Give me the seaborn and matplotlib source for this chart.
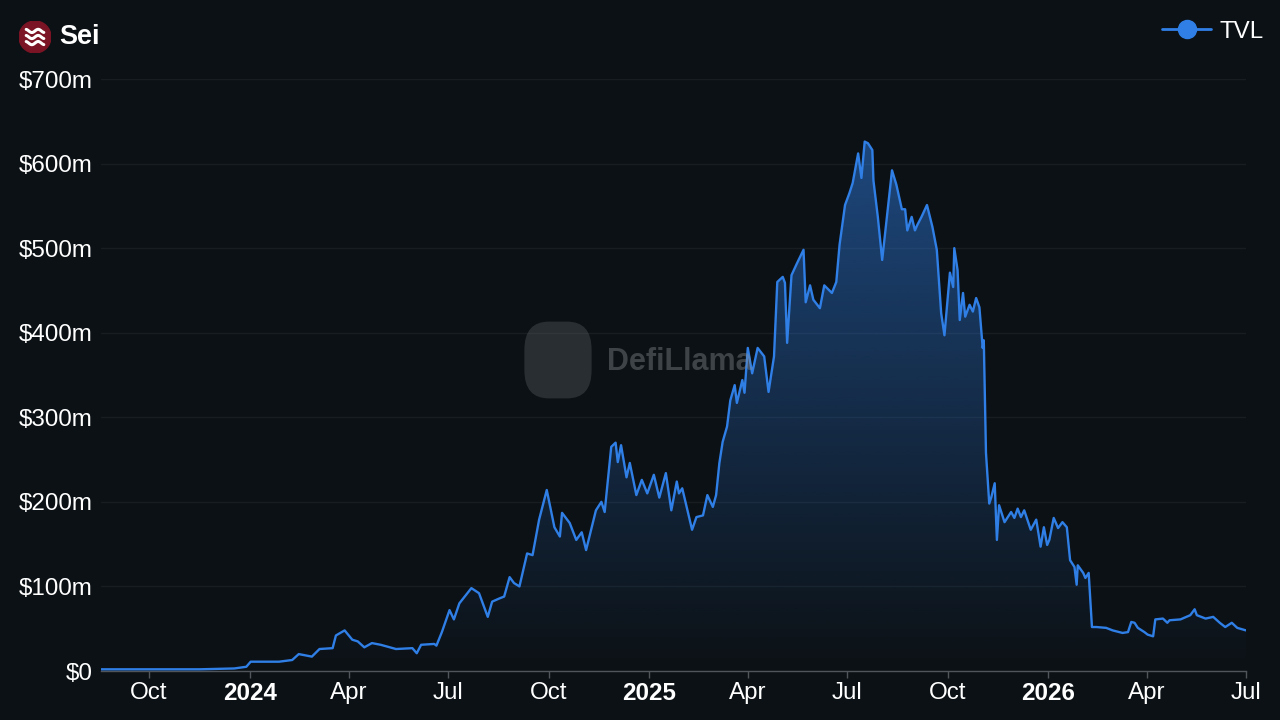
import numpy as np
import pandas as pd
import seaborn as sns
import matplotlib.pyplot as plt
import matplotlib.dates as mdates
from matplotlib.colors import to_rgb
from matplotlib.lines import Line2D
from matplotlib.patches import Circle, FancyBboxPatch

# TVL readings (in $m)
dates = [
    "2023-08-18", "2023-10-01", "2023-11-16", "2023-12-18", "2023-12-29",
    "2024-01-02", "2024-01-16", "2024-01-28", "2024-02-09", "2024-02-15",
    "2024-02-27", "2024-03-05", "2024-03-17", "2024-03-20", "2024-03-28",
    "2024-04-04", "2024-04-09", "2024-04-15", "2024-04-22", "2024-04-30",
    "2024-05-14", "2024-05-29", "2024-06-02", "2024-06-06", "2024-06-18",
    "2024-06-20", "2024-06-25", "2024-07-02", "2024-07-06", "2024-07-11",
    "2024-07-22", "2024-07-29", "2024-08-06", "2024-08-10", "2024-08-17",
    "2024-08-21", "2024-08-26", "2024-08-30", "2024-09-04", "2024-09-11",
    "2024-09-16", "2024-09-22", "2024-09-29", "2024-10-06", "2024-10-11",
    "2024-10-13", "2024-10-20", "2024-10-26", "2024-10-31", "2024-11-04",
    "2024-11-13", "2024-11-18", "2024-11-21", "2024-11-27", "2024-12-01",
    "2024-12-03", "2024-12-06", "2024-12-11", "2024-12-14", "2024-12-20",
    "2024-12-25", "2024-12-30", "2025-01-05", "2025-01-10", "2025-01-16",
    "2025-01-21", "2025-01-26", "2025-01-28", "2025-01-31", "2025-02-09",
    "2025-02-13", "2025-02-19", "2025-02-23", "2025-02-28", "2025-03-03",
    "2025-03-06", "2025-03-09", "2025-03-13", "2025-03-16", "2025-03-20",
    "2025-03-22", "2025-03-27", "2025-03-29", "2025-04-01", "2025-04-05",
    "2025-04-10", "2025-04-16", "2025-04-20", "2025-04-25", "2025-04-28",
    "2025-05-03", "2025-05-05", "2025-05-07", "2025-05-11", "2025-05-16",
    "2025-05-22", "2025-05-24", "2025-05-28", "2025-05-31", "2025-06-06",
    "2025-06-10", "2025-06-17", "2025-06-21", "2025-06-24", "2025-06-29",
    "2025-07-03", "2025-07-06", "2025-07-11", "2025-07-14", "2025-07-17",
    "2025-07-20", "2025-07-24", "2025-07-25", "2025-07-29", "2025-08-02",
    "2025-08-06", "2025-08-11", "2025-08-15", "2025-08-20", "2025-08-23",
    "2025-08-25", "2025-08-29", "2025-09-01", "2025-09-03", "2025-09-07",
    "2025-09-12", "2025-09-17", "2025-09-21", "2025-09-25", "2025-09-28",
    "2025-10-03", "2025-10-06", "2025-10-07", "2025-10-10", "2025-10-12",
    "2025-10-15", "2025-10-17", "2025-10-21", "2025-10-24", "2025-10-27",
    "2025-10-30", "2025-11-02", "2025-11-03", "2025-11-05", "2025-11-08",
    "2025-11-10", "2025-11-13", "2025-11-15", "2025-11-17", "2025-11-22",
    "2025-11-28", "2025-12-01", "2025-12-04", "2025-12-07", "2025-12-10",
    "2025-12-16", "2025-12-21", "2025-12-25", "2025-12-28", "2025-12-31",
    "2026-01-02", "2026-01-06", "2026-01-10", "2026-01-14", "2026-01-18",
    "2026-01-21", "2026-01-25", "2026-01-27", "2026-01-28", "2026-02-02",
    "2026-02-04", "2026-02-07", "2026-02-10", "2026-02-14", "2026-02-23",
    "2026-03-01", "2026-03-10", "2026-03-15", "2026-03-18", "2026-03-21",
    "2026-03-24", "2026-03-30", "2026-04-02", "2026-04-07", "2026-04-09",
    "2026-04-16", "2026-04-20", "2026-04-22", "2026-05-02", "2026-05-11",
    "2026-05-15", "2026-05-17", "2026-05-25", "2026-06-01", "2026-06-07",
    "2026-06-12", "2026-06-18", "2026-06-23", "2026-07-01",
]
tvl_m = [
    2, 2, 2, 3, 5,
    11, 11, 11, 13, 20,
    17, 26, 27, 42, 48,
    37, 35, 28, 33, 31,
    26, 27, 21, 31, 32,
    30, 46, 72, 61, 80,
    98, 92, 64, 82, 86,
    88, 111, 104, 100, 139,
    137, 179, 214, 170, 159,
    187, 175, 155, 164, 143,
    190, 200, 188, 265, 270,
    247, 267, 229, 246, 208,
    226, 210, 232, 205, 234,
    190, 224, 210, 216, 167,
    182, 184, 208, 194, 208,
    246, 271, 289, 320, 338,
    317, 344, 329, 382, 352,
    382, 372, 330, 372, 460,
    466, 459, 388, 468, 482,
    498, 436, 456, 439, 429,
    456, 447, 460, 504, 551,
    565, 577, 612, 583, 626,
    624, 616, 580, 537, 486,
    533, 592, 575, 546, 546,
    521, 537, 521, 527, 537,
    551, 525, 498, 423, 397,
    471, 454, 500, 474, 415,
    447, 419, 433, 425, 441,
    430, 382, 391, 258, 198,
    206, 222, 155, 196, 176,
    188, 181, 192, 182, 190,
    167, 179, 147, 170, 149,
    155, 181, 169, 176, 170,
    131, 123, 102, 125, 116,
    110, 116, 52, 52, 51,
    48, 45, 46, 58, 57,
    51, 46, 43, 41, 61,
    62, 57, 60, 61, 66,
    73, 66, 62, 64, 57,
    52, 57, 51, 48,
]

tick_dates = ["2023-10-01", "2024-01-01", "2024-04-01", "2024-07-01",
              "2024-10-01", "2025-01-01", "2025-04-01", "2025-07-01",
              "2025-10-01", "2026-01-01", "2026-04-01", "2026-07-01"]
tick_labels = ["Oct", "2024", "Apr", "Jul", "Oct", "2025", "Apr", "Jul",
               "Oct", "2026", "Apr", "Jul"]
y_ticks = [0, 100, 200, 300, 400, 500, 600, 700]
y_labels = ["$0", "$100m", "$200m", "$300m", "$400m", "$500m", "$600m", "$700m"]

BG = "#0c1115"
LINE = "#2f7fe6"
GRID = "#181d22"
AXIS = "#50555b"

sns.set_theme(style="dark")
plt.rcParams["font.family"] = ["Liberation Sans", "DejaVu Sans"]

df = pd.DataFrame({"date": pd.to_datetime(dates), "tvl": tvl_m})

fig = plt.figure(figsize=(12.8, 7.2), dpi=100, facecolor=BG)
ax = fig.add_axes([101 / 1280, 1 - 671 / 720, (1246 - 101) / 1280, (671 - 79) / 720])
ax.set_facecolor(BG)

sns.lineplot(data=df, x="date", y="tvl", ax=ax, color=LINE, lw=1.7, zorder=3)

# gradient area under the line
xs = mdates.date2num(df["date"])
area = ax.fill_between(df["date"], 0, df["tvl"], color="none", lw=0)
grad = np.zeros((256, 1, 4))
grad[:, 0, :3] = to_rgb(LINE)
grad[:, 0, 3] = np.linspace(0.5, 0.0, 256)
img = ax.imshow(grad, extent=[xs.min(), xs.max(), 0, df["tvl"].max()],
                aspect="auto", origin="upper", zorder=2)
img.set_clip_path(area.get_paths()[0], ax.transData)

ax.set_xlim(xs.min(), mdates.date2num(pd.Timestamp("2026-07-01")))
ax.set_ylim(0, 700)
ax.set_xlabel("")
ax.set_ylabel("")

ax.set_yticks(y_ticks)
ax.set_yticklabels(y_labels)
ax.set_xticks(mdates.date2num(pd.to_datetime(tick_dates)))
ax.set_xticklabels(tick_labels)
for lab in ax.get_xticklabels():
    if lab.get_text().isdigit():
        lab.set_fontweight("bold")

ax.tick_params(axis="y", length=0, pad=6, labelsize=17.4, labelcolor="white")
ax.tick_params(axis="x", length=5, width=1, color=AXIS, pad=3, labelsize=17.4,
               labelcolor="white", bottom=True)
ax.yaxis.grid(True, color=GRID, lw=1)
ax.xaxis.grid(False)
for side in ["top", "right", "left"]:
    ax.spines[side].set_visible(False)
ax.spines["bottom"].set_color(AXIS)
ax.spines["bottom"].set_linewidth(1)

# title with logo
fig.text(59 / 1280, 1 - 37 / 720, "Sei", fontsize=19.5, fontweight="bold",
         color="white", va="center", ha="left")
lax = fig.add_axes([19 / 1280, 1 - 53 / 720, 32 / 1280, 32 / 720])
lax.set_xlim(-1, 1)
lax.set_ylim(-1, 1)
lax.set_aspect("equal")
lax.axis("off")
lax.add_patch(Circle((0, 0), 1, color="#7b1424"))
wx = np.linspace(-0.55, 0.55, 40)
for off in [0.38, 0.0, -0.38]:
    lax.plot(wx, off + 0.1 * np.sin(wx * 8), color="white", lw=2.2, solid_capstyle="round")

# watermark
wax = fig.add_axes([523 / 1280, 1 - 400 / 720, 70 / 1280, 80 / 720])
wax.set_xlim(0, 1)
wax.set_ylim(0, 1)
wax.axis("off")
wax.add_patch(FancyBboxPatch((0.02, 0.02), 0.96, 0.96,
                             boxstyle="round,pad=0,rounding_size=0.35",
                             color="#6e7378", alpha=0.3, lw=0))
fig.text(607 / 1280, 1 - 362 / 720, "DefiLlama", fontsize=22, fontweight="bold",
         color="#8a8f94", alpha=0.4, va="center", ha="left")

# legend
handle = Line2D([], [], color=LINE, lw=2, marker="o", markersize=13)
leg = fig.legend([handle], ["TVL"], loc="upper right",
                 bbox_to_anchor=(1285 / 1280, 1 + 1 / 720), frameon=False,
                 fontsize=17.4, labelcolor="white", handlelength=2.0,
                 handletextpad=0.35)

fig.savefig("out.png", dpi=100, facecolor=BG)
